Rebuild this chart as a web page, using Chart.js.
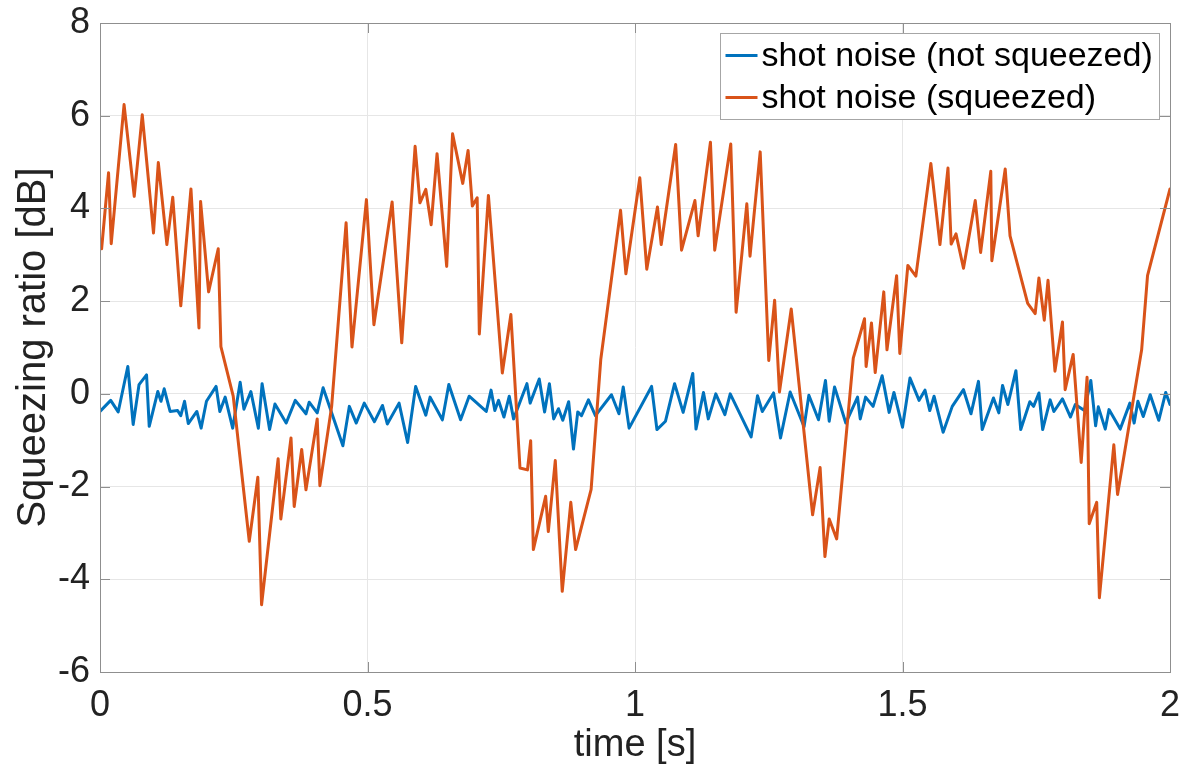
<!DOCTYPE html>
<html>
<head>
<meta charset="utf-8">
<script src="https://cdn.jsdelivr.net/npm/chart.js@4/dist/chart.umd.min.js"></script>
<style>
  html, body { margin: 0; padding: 0; background: #fff; }
  #wrap { width: 1180px; height: 768px; }
</style>
</head>
<body>
<div id="wrap"><canvas id="chart" width="1180" height="768"></canvas></div>
<script>
// шкалы
const xTicks = [0, 0.5, 1, 1.5, 2];
const yTicks = [-6, -4, -2, 0, 2, 4, 6, 8];

// shot noise (not squeezed)
const timeBlue = [
  0.000, 0.020, 0.034, 0.052, 0.062, 0.073, 0.087, 0.092, 0.108, 0.114,
  0.120, 0.131, 0.145, 0.151, 0.158, 0.165, 0.181, 0.189, 0.199, 0.217,
  0.224, 0.234, 0.248, 0.262, 0.269, 0.282, 0.296, 0.303, 0.317, 0.327,
  0.348, 0.365, 0.385, 0.391, 0.406, 0.417, 0.454, 0.466, 0.479, 0.494,
  0.513, 0.528, 0.537, 0.559, 0.575, 0.590, 0.609, 0.617, 0.640, 0.652,
  0.674, 0.690, 0.722, 0.731, 0.738, 0.745, 0.755, 0.765, 0.773, 0.798,
  0.804, 0.821, 0.831, 0.840, 0.848, 0.857, 0.865, 0.876, 0.885, 0.893,
  0.900, 0.913, 0.926, 0.956, 0.970, 0.978, 0.989,
  1.031, 1.041, 1.057, 1.074, 1.090, 1.108, 1.114, 1.128, 1.137, 1.151,
  1.168, 1.178, 1.217, 1.229, 1.238, 1.259, 1.272, 1.290, 1.316, 1.325,
  1.343, 1.356, 1.363, 1.373, 1.394, 1.416, 1.421, 1.431, 1.445, 1.462,
  1.475, 1.484,
  1.500, 1.514, 1.531, 1.542, 1.551, 1.559, 1.576, 1.593, 1.614, 1.628,
  1.642, 1.649, 1.670, 1.680, 1.687, 1.697, 1.712, 1.721, 1.738, 1.745,
  1.755, 1.762, 1.776, 1.783, 1.799, 1.814, 1.823, 1.840, 1.852, 1.861,
  1.866, 1.879, 1.886, 1.907, 1.925, 1.933, 1.940, 1.950, 1.963, 1.979,
  1.992, 2.000
];
const blueDb = [
  -0.38, -0.14, -0.39, 0.59, -0.66, 0.20, 0.41, -0.70, 0.05, -0.16,
  0.11, -0.38, -0.36, -0.47, -0.16, -0.64, -0.38, -0.74, -0.16, 0.16,
  -0.38, -0.07, -0.74, 0.25, -0.33, 0.05, -0.74, 0.22, -0.77, -0.22,
  -0.63, -0.14, -0.43, -0.18, -0.41, 0.13, -1.12, -0.27, -0.63, -0.20,
  -0.60, -0.25, -0.65, -0.20, -1.05, 0.16, -0.46, -0.07, -0.56, 0.20,
  -0.56, -0.05, -0.38, 0.08, -0.36, -0.14, -0.50, -0.05, -0.54, 0.22,
  -0.20, 0.32, -0.39, 0.22, -0.54, -0.32, -0.57, -0.17, -1.19, -0.39,
  -0.47, -0.13, -0.47, -0.02, -0.43, 0.15, -0.74,
  0.16, -0.77, -0.59, 0.22, -0.40, 0.44, -0.76, 0.03, -0.54, 0.00,
  -0.45, 0.00, -0.93, -0.04, -0.38, 0.02, -0.95, 0.04, -0.71, -0.03,
  -0.56, 0.29, -0.59, 0.15, -0.63, -0.07, -0.54, -0.07, -0.27, 0.39,
  -0.40, 0.03,
  -0.72, 0.34, -0.14, 0.08, -0.36, -0.05, -0.83, -0.27, 0.09, -0.43,
  0.27, -0.77, -0.09, -0.41, 0.18, -0.23, 0.50, -0.77, -0.17, -0.27,
  0.02, -0.77, -0.13, -0.38, -0.11, -0.50, -0.23, -0.36, 0.29, -0.69,
  -0.28, -0.76, -0.34, -0.76, -0.20, -0.63, -0.16, -0.49, -0.02, -0.57,
  0.03, -0.23
];

// shot noise (squeezed)
const timeOrange = [
  0.003, 0.016, 0.021, 0.045, 0.064, 0.079, 0.100, 0.109, 0.125, 0.136,
  0.151, 0.170, 0.185, 0.188, 0.203, 0.221, 0.226, 0.249, 0.279, 0.295,
  0.302, 0.333, 0.338, 0.357, 0.363, 0.377, 0.385, 0.406, 0.411, 0.433,
  0.460, 0.471, 0.498, 0.512, 0.546, 0.564, 0.589, 0.598, 0.609, 0.619,
  0.630, 0.648, 0.659, 0.678, 0.688, 0.696, 0.705, 0.709, 0.726, 0.752,
  0.768, 0.785, 0.799, 0.805, 0.810, 0.833, 0.838, 0.851, 0.864, 0.880,
  0.889, 0.918, 0.936, 0.973, 0.983, 1.009, 1.022, 1.042, 1.049, 1.076,
  1.087, 1.112, 1.118, 1.141, 1.149, 1.179, 1.189, 1.209, 1.215, 1.234,
  1.250, 1.261, 1.270, 1.292, 1.332, 1.346, 1.355, 1.363, 1.377, 1.408,
  1.429, 1.432, 1.442, 1.449, 1.465, 1.471, 1.489, 1.495, 1.510, 1.525,
  1.553, 1.570, 1.585, 1.591, 1.600, 1.614, 1.636, 1.646, 1.665, 1.667,
  1.692, 1.701, 1.734, 1.748, 1.755, 1.765, 1.772, 1.785, 1.799, 1.804,
  1.819, 1.834, 1.845, 1.849, 1.863, 1.868, 1.895, 1.902, 1.947, 1.958,
  2.000
];
const orangeDb = [
  3.13, 4.77, 3.24, 6.24, 4.26, 6.02, 3.47, 4.99, 3.22, 4.24,
  1.90, 4.42, 1.42, 4.15, 2.20, 3.13, 1.02, -0.05, -3.18, -1.80,
  -4.55, -1.40, -2.70, -0.95, -2.43, -1.20, -2.07, -0.54, -1.98, -0.27,
  3.69, 1.01, 4.19, 1.49, 4.14, 1.10, 5.34, 4.12, 4.41, 3.65,
  5.18, 2.75, 5.61, 4.54, 5.25, 4.05, 4.23, 1.29, 4.28, 0.45,
  1.71, -1.60, -1.64, -1.01, -3.36, -2.21, -2.97, -1.44, -4.26, -2.34,
  -3.36, -2.06, 0.74, 3.96, 2.59, 4.66, 2.69, 4.03, 3.22, 5.38,
  3.10, 4.17, 3.41, 5.43, 3.10, 5.39, 1.76, 4.10, 2.97, 5.22,
  0.72, 2.02, 0.04, 1.83, -2.61, -1.59, -3.51, -2.70, -3.13, 0.77,
  1.62, 0.59, 1.53, 0.46, 2.20, 0.95, 2.55, 0.87, 2.77, 2.54,
  4.97, 3.22, 4.87, 3.23, 3.45, 2.71, 4.17, 3.05, 4.80, 2.87,
  4.85, 3.41, 1.95, 1.73, 2.50, 1.59, 2.45, 0.49, 1.55, 0.09,
  0.85, -1.48, 0.36, -2.80, -2.34, -4.40, -1.10, -2.17, 0.95, 2.55,
  4.42
];

const FONT = "'Liberation Sans', Arial, Helvetica, sans-serif";
const AXIS_COLOR = '#8f8f8f';
const TEXT_COLOR = '#222222';

function toPoints(xs, ys) {
  return xs.map((x, i) => ({ x: x, y: ys[i] }));
}

// рамка, внутренние штрихи и легенда как в MATLAB
const matlabFrame = {
  id: 'matlabFrame',
  afterDatasetsDraw(chart) {
    const ctx = chart.ctx;
    const area = chart.chartArea;
    const xs = chart.scales.x;
    const ys = chart.scales.y;
    const tick = 10;

    ctx.save();
    ctx.strokeStyle = AXIS_COLOR;
    ctx.lineWidth = 1;
    ctx.beginPath();
    xTicks.forEach(v => {
      const px = Math.round(xs.getPixelForValue(v)) + 0.5;
      ctx.moveTo(px, area.bottom); ctx.lineTo(px, area.bottom - tick);
      ctx.moveTo(px, area.top); ctx.lineTo(px, area.top + tick);
    });
    yTicks.forEach(v => {
      const py = Math.round(ys.getPixelForValue(v)) + 0.5;
      ctx.moveTo(area.left, py); ctx.lineTo(area.left + tick, py);
      ctx.moveTo(area.right, py); ctx.lineTo(area.right - tick, py);
    });
    ctx.stroke();
    ctx.strokeRect(Math.round(area.left) + 0.5, Math.round(area.top) + 0.5,
      Math.round(area.right - area.left), Math.round(area.bottom - area.top));

    // легенда
    const items = chart.data.datasets.map(d => ({ text: d.label, color: d.borderColor }));
    ctx.font = '34px ' + FONT;
    const textW = Math.max(...items.map(it => ctx.measureText(it.text).width));
    const lineLen = 32, gap = 4, padL = 5, padR = 7, rowH = 42;
    const boxW = Math.round(padL + lineLen + gap + textW + padR);
    const boxH = rowH * items.length + 2;
    const bx = Math.round(area.right - 11 - boxW) + 0.5;
    const by = Math.round(area.top + 10) + 0.5;
    ctx.fillStyle = '#ffffff';
    ctx.fillRect(bx, by, boxW, boxH);
    ctx.strokeStyle = '#a6a6a6';
    ctx.strokeRect(bx, by, boxW, boxH);
    items.forEach((it, i) => {
      const cy = by + 1 + rowH * i + rowH / 2;
      ctx.strokeStyle = it.color;
      ctx.lineWidth = 3;
      ctx.beginPath();
      ctx.moveTo(bx + padL, cy);
      ctx.lineTo(bx + padL + lineLen, cy);
      ctx.stroke();
      ctx.fillStyle = '#000000';
      ctx.textBaseline = 'middle';
      ctx.textAlign = 'left';
      ctx.fillText(it.text, bx + padL + lineLen + gap, cy + 1);
    });
    ctx.restore();
  }
};

const ctx = document.getElementById('chart').getContext('2d');
new Chart(ctx, {
  type: 'line',
  data: {
    datasets: [
      {
        label: 'shot noise (not squeezed)',
        data: toPoints(timeBlue, blueDb),
        borderColor: '#0072BD',
        borderWidth: 3,
        order: 1
      },
      {
        label: 'shot noise (squeezed)',
        data: toPoints(timeOrange, orangeDb),
        borderColor: '#D95319',
        borderWidth: 3,
        order: 0
      }
    ]
  },
  options: {
    responsive: false,
    animation: false,
    parsing: false,
    elements: {
      point: { radius: 0 },
      line: { tension: 0, borderJoinStyle: 'round', borderCapStyle: 'round', fill: false }
    },
    layout: { padding: { left: 0, right: 10, top: 23, bottom: 0 } },
    plugins: {
      legend: { display: false },
      tooltip: { enabled: false }
    },
    scales: {
      x: {
        type: 'linear',
        min: 0,
        max: 2,
        afterBuildTicks: s => { s.ticks = xTicks.map(v => ({ value: v })); },
        afterFit: s => { s.height = 96; s.paddingLeft = 0; s.paddingRight = 0; },
        grid: { color: '#e6e6e6', drawTicks: false },
        border: { display: false },
        ticks: {
          padding: 12,
          color: TEXT_COLOR,
          font: { family: FONT, size: 36 },
          maxRotation: 0,
          callback: v => String(v)
        },
        title: {
          display: true,
          text: 'time [s]',
          color: TEXT_COLOR,
          font: { family: FONT, size: 38 },
          padding: { top: 0, bottom: 0 }
        }
      },
      y: {
        type: 'linear',
        min: -6,
        max: 8,
        afterBuildTicks: s => { s.ticks = yTicks.map(v => ({ value: v })); },
        afterFit: s => { s.width = 100; s.paddingTop = 0; s.paddingBottom = 0; },
        grid: { color: '#e6e6e6', drawTicks: false },
        border: { display: false },
        ticks: {
          padding: 10,
          color: TEXT_COLOR,
          font: { family: FONT, size: 36 },
          callback: v => String(v)
        },
        title: {
          display: true,
          text: 'Squeezing ratio [dB]',
          color: TEXT_COLOR,
          font: { family: FONT, size: 40 },
          padding: { top: 10, bottom: 0 }
        }
      }
    }
  },
  plugins: [matlabFrame]
});
</script>
</body>
</html>
